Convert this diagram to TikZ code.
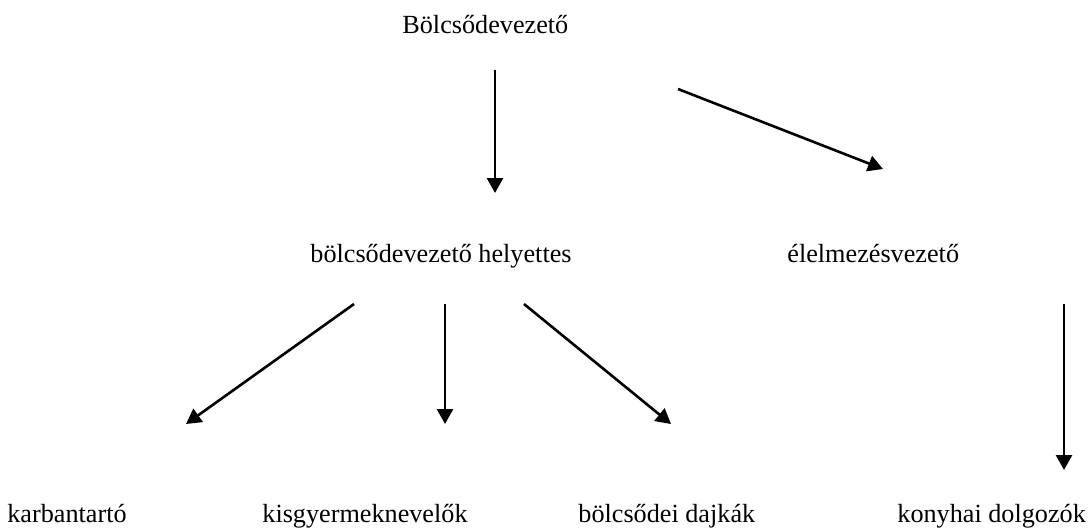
\documentclass[tikz,border=0pt]{standalone}
\usepackage{fontspec}
\setmainfont{Liberation Serif}
\usetikzlibrary{arrows.meta}
\begin{document}
\begin{tikzpicture}[x=0.5pt,y=-0.5pt,
  lbl/.style={anchor=base west,inner sep=0pt,font=\fontsize{13.1}{15}\selectfont},
  arr/.style={line width=1.3pt,-{Triangle[length=7.5pt,width=8pt]}}]
\useasboundingbox (0,0) rectangle (1090,527);
\node[lbl] (top) at (402,33) {Bölcsődevezető};
\node[lbl] (hely) at (310,262) {bölcsődevezető helyettes};
\node[lbl] (elel) at (787,262) {élelmezésvezető};
\node[lbl] (karb) at (7,522) {karbantartó};
\node[lbl] (kisg) at (262,522) {kisgyermeknevelők};
\node[lbl] (dajk) at (578,522) {bölcsődei dajkák};
\node[lbl] (kony) at (897,522) {konyhai dolgozók};
\coordinate (a1s) at (495,70);   \coordinate (a1e) at (495,193);
\coordinate (a2s) at (678,89);   \coordinate (a2e) at (883,169);
\coordinate (a3s) at (354,304);  \coordinate (a3e) at (186,424);
\coordinate (a4s) at (445,304);  \coordinate (a4e) at (445,424);
\coordinate (a5s) at (524,304);  \coordinate (a5e) at (671,424);
\coordinate (a6s) at (1064,304); \coordinate (a6e) at (1064,470);
\draw[arr] (a1s) -- (a1e);
\draw[arr] (a2s) -- (a2e);
\draw[arr] (a3s) -- (a3e);
\draw[arr] (a4s) -- (a4e);
\draw[arr] (a5s) -- (a5e);
\draw[arr] (a6s) -- (a6e);
\end{tikzpicture}
\end{document}
